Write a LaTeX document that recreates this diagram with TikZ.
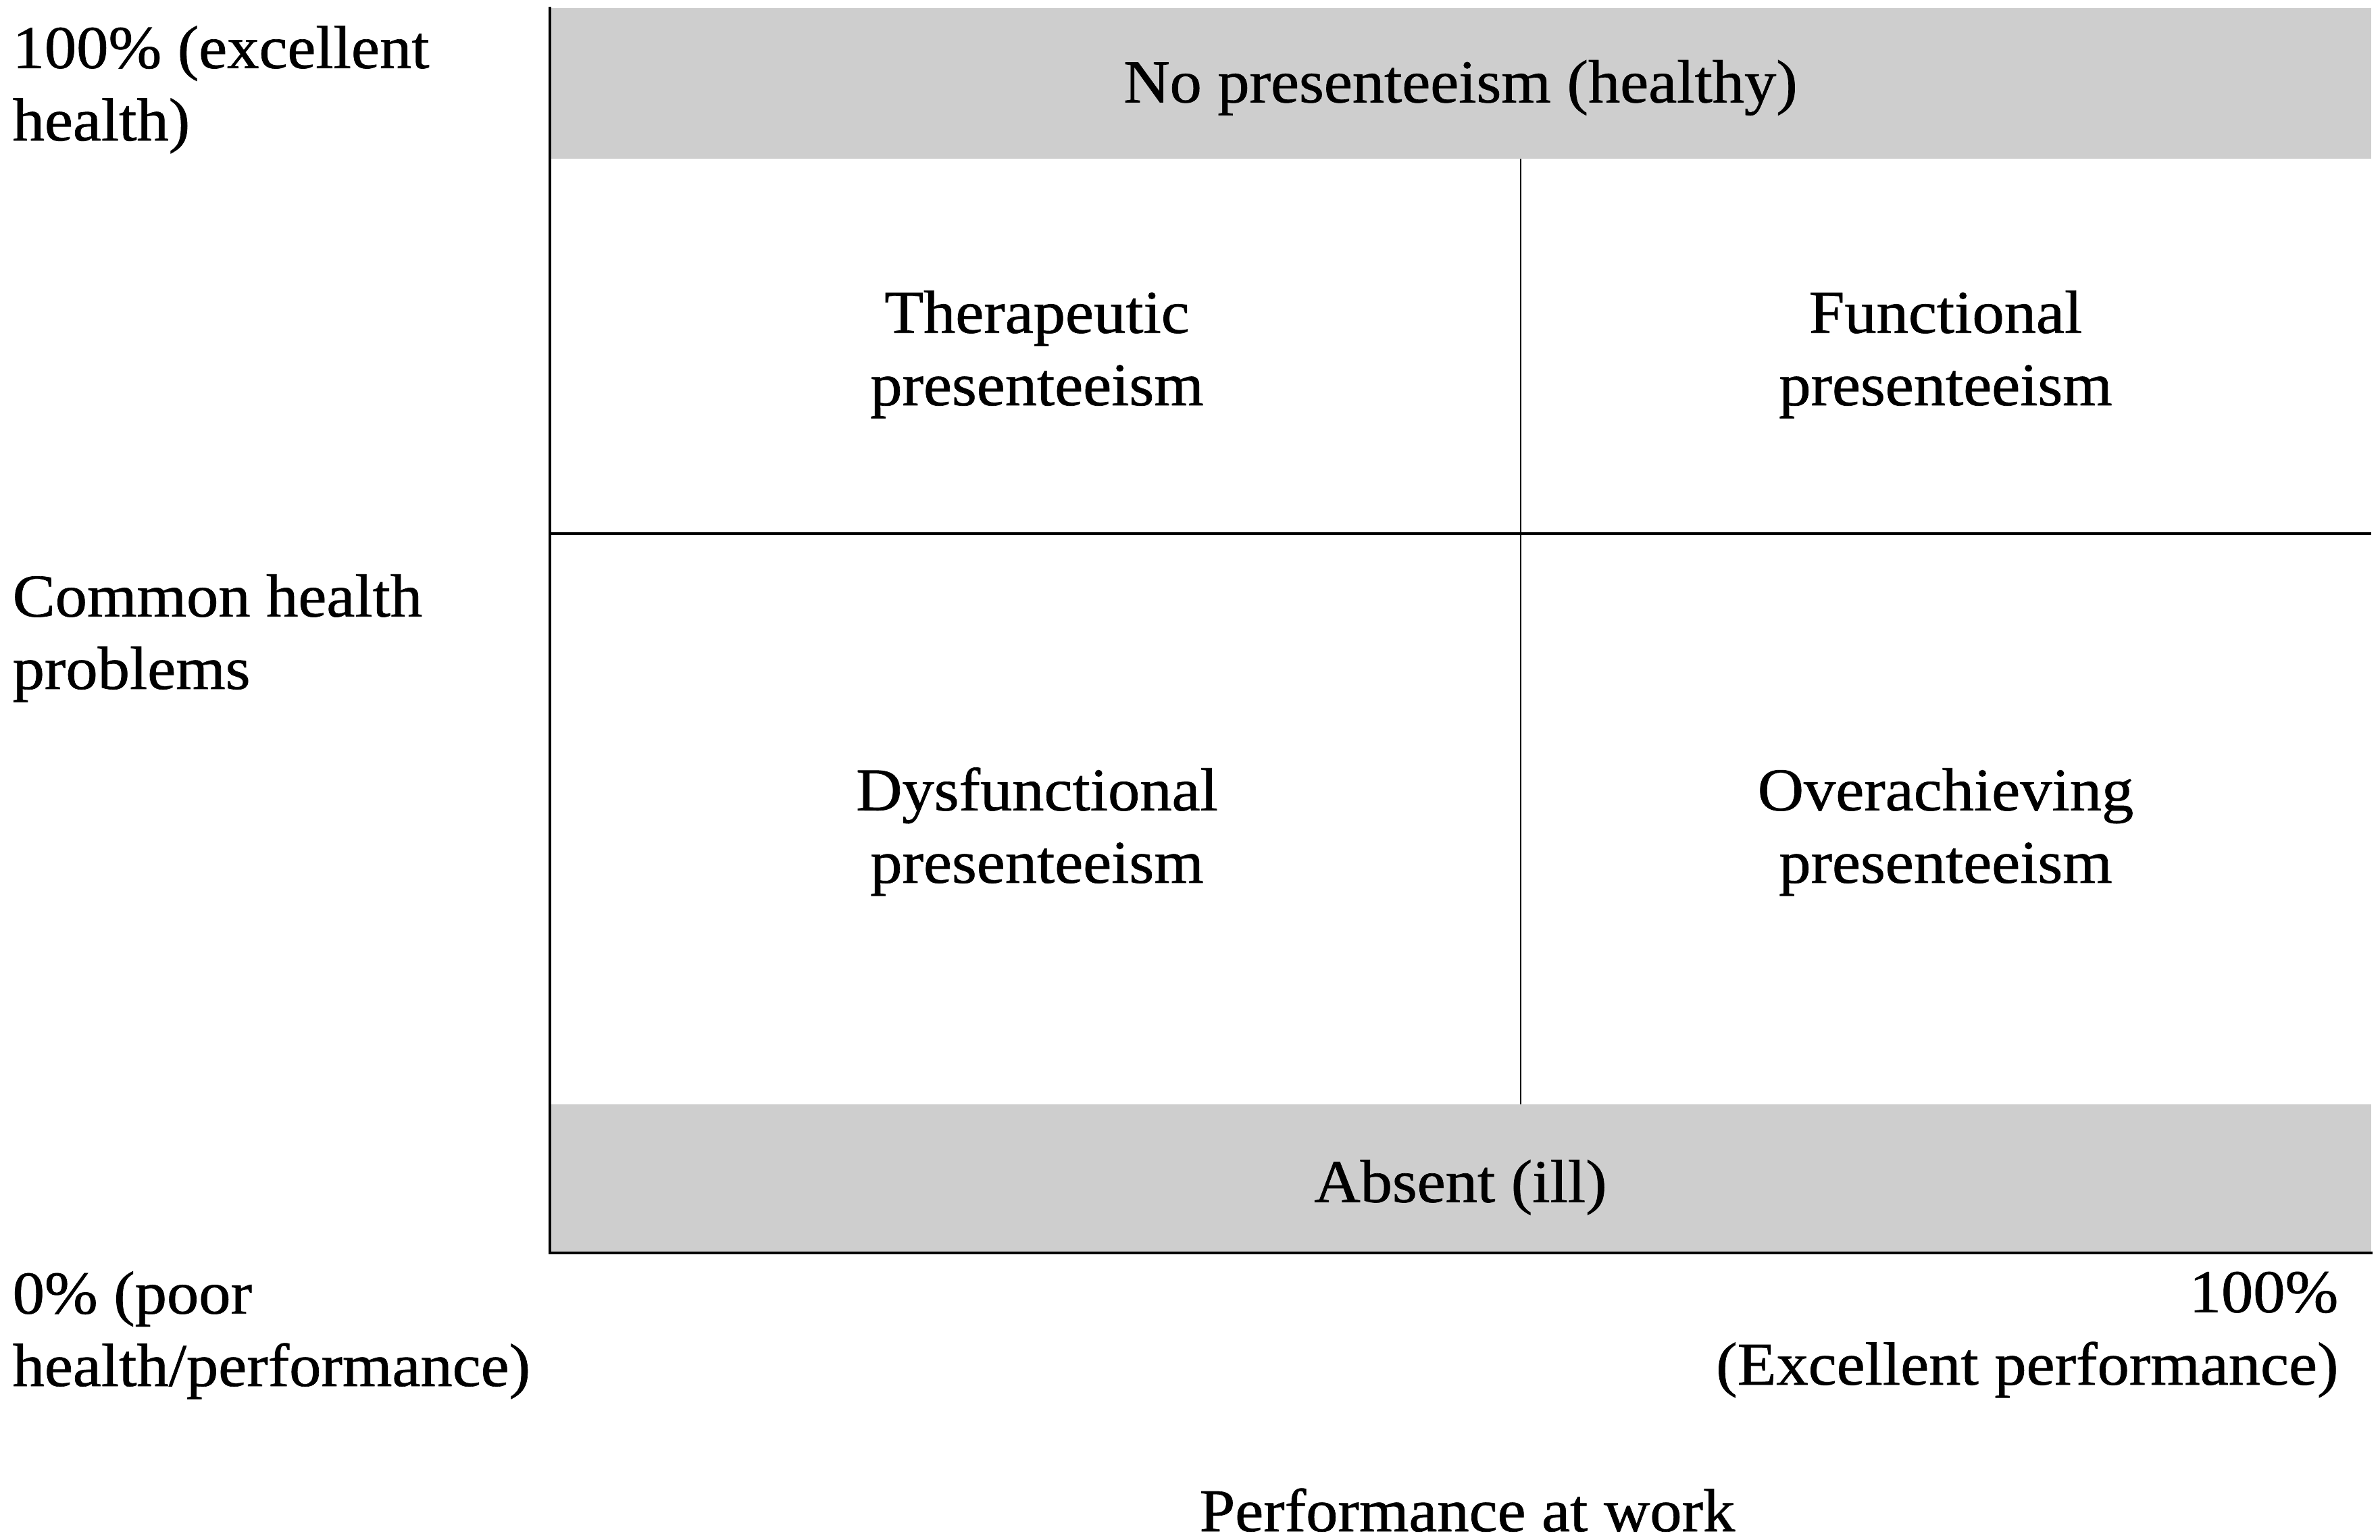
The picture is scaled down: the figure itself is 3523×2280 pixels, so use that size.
\documentclass[tikz,border=0pt]{standalone}
\usepackage{fontspec}
\setmainfont[FakeStretch=1.05,FakeBold=0.8]{Liberation Serif}
\definecolor{bandgray}{RGB}{206,206,206}
\begin{document}
\begin{tikzpicture}[x=0.01cm,y=-0.01cm,
  lbl/.style={inner sep=0pt,font=\fontsize{25.6}{30.5}\selectfont},
  cell/.style={lbl,align=center,anchor=base},
  axisline/.style={line width=1.3pt,line cap=rect},
  gridline/.style={line width=1pt}]
\useasboundingbox (0,0) rectangle (3523,2280);
% key coordinates
\coordinate (tl) at (814,12);
\coordinate (bl) at (814,1855);
\coordinate (br) at (3510,1855);
\coordinate (mL) at (814,790);
\coordinate (mR) at (3510,790);
\coordinate (vT) at (2251,235);
\coordinate (vB) at (2251,1635);
% gray bands
\fill[bandgray] (814,12) rectangle (3510,235);
\fill[bandgray] (814,1635) rectangle (3510,1853);
% grid lines
\draw[gridline] (mL) -- (mR);
\draw[gridline,line width=0.8pt] (vT) -- (vB);
% axes
\draw[axisline] (tl) -- (bl) -- (br);
% band labels
\node[lbl] (healthy) at (2162,130) {No presenteeism (healthy)};
\node[lbl] (absent) at (2162,1758) {Absent (ill)};
% cell labels (anchor at baseline of last line)
\node[cell] (ther) at (1535,600) {Therapeutic\\presenteeism};
\node[cell] (func) at (2880,600) {Functional\\presenteeism};
\node[cell] (dysf) at (1535,1307) {Dysfunctional\\presenteeism};
\node[cell] (over) at (2880,1307) {Overachieving\\presenteeism};
% axis labels
\node[lbl,align=left,anchor=base west] (top) at (18,208) {100\% (excellent\\health)};
\node[lbl,align=left,anchor=base west] (common) at (18,1020) {Common health\\problems};
\node[lbl,align=left,anchor=base west] (zero) at (18,2052) {0\% (poor\\health/performance)};
\node[lbl,align=right,anchor=base east] (hundred) at (3462,2050) {100\%\\(Excellent performance)};
\node[lbl,anchor=base] (xtitle) at (2172,2267) {Performance at work};
\end{tikzpicture}
\end{document}
